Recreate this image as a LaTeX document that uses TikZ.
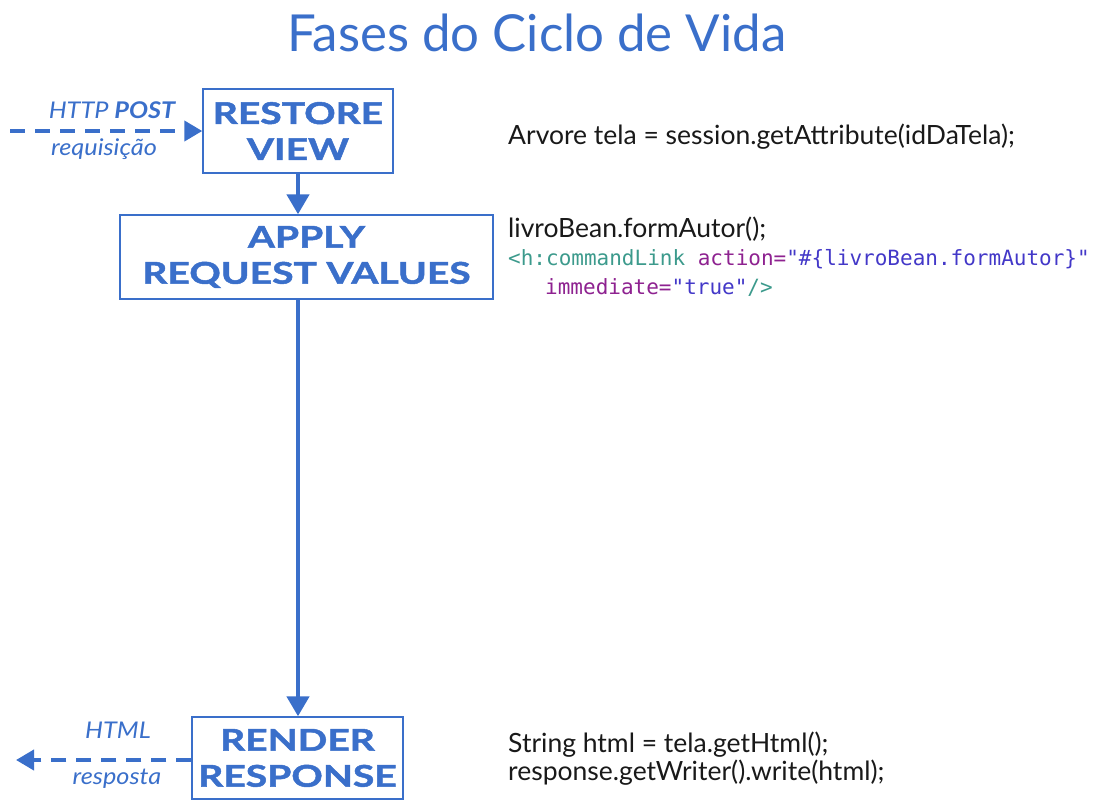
\documentclass[tikz,border=0pt]{standalone}
\usepackage{fontspec}
\setmainfont{Lato}
\setmonofont{DejaVu Sans Mono}
\newfontfamily\phasefont{Lato}[BoldFeatures={FakeStretch=1.3,FakeBold=1.6}]
\newfontfamily\labelfont{Lato}[ItalicFeatures={FakeStretch=1.1},BoldItalicFeatures={FakeStretch=1.1}]
\usepackage{tikz}
\usetikzlibrary{arrows.meta,positioning,calc}

\definecolor{phaseblue}{HTML}{3A6FCA}
\definecolor{tagteal}{HTML}{3C9A8C}
\definecolor{attrpurple}{HTML}{8E2290}
\definecolor{strblue}{HTML}{4338C8}

\tikzset{
  phase/.style={draw=phaseblue,line width=1.4pt,fill=white,align=center,
    text=phaseblue,font=\phasefont\fontsize{30}{36}\selectfont\bfseries,inner sep=0pt},
  flow/.style={phaseblue,line width=4.5pt,-{Triangle[width=22pt,length=20pt]}},
  msg/.style={phaseblue,line width=4pt,dash pattern=on 15pt off 10pt,
    -{Triangle[width=20pt,length=18pt]}},
  msglabel/.style={text=phaseblue,font=\labelfont\fontsize{23}{27}\selectfont\itshape,inner sep=0pt},
  code/.style={anchor=west,inner sep=0pt,text=black!90,font=\fontsize{26.5}{30}\selectfont},
  xml/.style={anchor=west,inner sep=0pt,font=\ttfamily\fontsize{21}{26}\selectfont}
}

\begin{document}
\begin{tikzpicture}[x=1pt,y=-1pt]
  \useasboundingbox (0,0) rectangle (1101,804);

  % title
  \node[text=phaseblue,font=\fontsize{51}{58}\selectfont] (title) at (537,33) {Fases do Ciclo de Vida};

  % phases
  \node[phase,minimum width=190pt,minimum height=84pt] (restore) at (298,131) {RESTORE\\VIEW};
  \node[phase,minimum width=373pt,minimum height=84pt] (apply) at (306.5,257) {APPLY\\REQUEST VALUES};
  \node[phase,minimum width=211pt,minimum height=82pt] (render) at (297.5,758) {RENDER\\RESPONSE};

  \draw[flow] (restore.south) -- (restore.south |- apply.north);
  \draw[flow] (restore.south |- apply.south) -- (restore.south |- render.north);

  % request / response
  \coordinate (client in) at (10,131);
  \coordinate (client out) at (16,760);
  \draw[msg] (client in) -- (restore.west);
  \draw[msg] (render.west |- client out) -- (client out);
  \node[msglabel] (post) at (112,110) {HTTP \textbf{POST}};
  \node[msglabel] (req) at (104,149) {requisição};
  \node[msglabel] (html) at (118,730) {HTML};
  \node[msglabel] (resp) at (117,779) {resposta};

  % code per phase
  \node[code] (restore code) at (508,137) {Arvore tela = session.getAttribute(idDaTela);};
  \node[code] (apply code) at (508,229) {livroBean.formAutor();};
  \node[xml] (tag line) at (508,259) {\textcolor{tagteal}{<h:commandLink} \textcolor{attrpurple}{action=}\textcolor{strblue}{"\#\{livroBean.formAutor\}"}};
  \node[xml] (attr line) at (545,287) {\textcolor{attrpurple}{immediate=}\textcolor{strblue}{"true"}\textcolor{tagteal}{/>}};
  \node[code] (render code) at (508,745) {String html = tela.getHtml();};
  \node[code] (write code) at (508,773) {response.getWriter().write(html);};
\end{tikzpicture}
\end{document}
